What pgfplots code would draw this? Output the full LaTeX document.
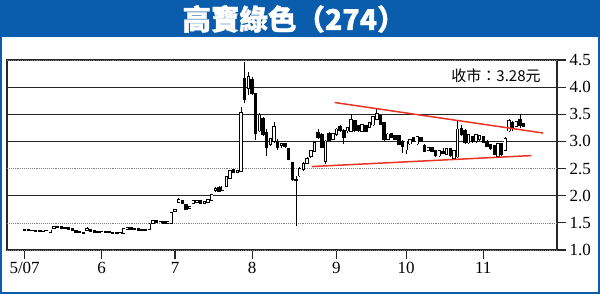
\documentclass[border=0pt]{standalone}
\usepackage{fontspec}
\setmainfont{Liberation Serif}
\newfontfamily\cjk{Noto Sans CJK TC}
\newfontfamily\cjkt{Noto Sans CJK TC}[BoldFeatures={FakeBold=1.2}]
\usepackage{pgfplots}
\usepackage{pgfplotstable}
\pgfplotsset{compat=1.18}
\definecolor{hkblue}{RGB}{10,92,172}
\definecolor{tred}{RGB}{232,52,36}

\pgfplotstableread{
x o h l c
0 1.37 1.38 1.36 1.37
1 1.37 1.38 1.36 1.36
2 1.36 1.37 1.35 1.36
3 1.36 1.37 1.34 1.35
4 1.35 1.36 1.34 1.35
5 1.35 1.36 1.34 1.36
6 1.36 1.37 1.35 1.36
7 1.33 1.37 1.32 1.36
8 1.40 1.44 1.39 1.43
9 1.43 1.44 1.41 1.42
10 1.42 1.43 1.40 1.41
11 1.41 1.42 1.39 1.40
12 1.40 1.41 1.38 1.39
13 1.38 1.39 1.35 1.36
14 1.35 1.36 1.32 1.33
15 1.33 1.34 1.31 1.32
16 1.32 1.33 1.30 1.31
17 1.36 1.43 1.35 1.38
18 1.37 1.38 1.34 1.35
19 1.35 1.36 1.32 1.33
20 1.33 1.34 1.31 1.32
21 1.32 1.34 1.31 1.33
22 1.33 1.34 1.32 1.33
23 1.33 1.34 1.31 1.32
24 1.32 1.33 1.30 1.31
25 1.31 1.32 1.30 1.31
26 1.31 1.32 1.30 1.32
27 1.31 1.41 1.30 1.39
28 1.39 1.41 1.38 1.40
29 1.40 1.41 1.38 1.39
30 1.39 1.40 1.37 1.38
31 1.38 1.39 1.36 1.37
32 1.37 1.38 1.35 1.37
33 1.37 1.38 1.35 1.36
34 1.38 1.49 1.37 1.47
35 1.50 1.56 1.49 1.53
36 1.53 1.55 1.50 1.51
37 1.51 1.53 1.49 1.52
38 1.52 1.53 1.50 1.50
39 1.50 1.52 1.49 1.51
40 1.50 1.70 1.49 1.68
41 1.72 1.76 1.70 1.74
42 1.88 1.96 1.86 1.92
43 1.90 1.92 1.84 1.86
44 1.84 1.85 1.74 1.76
45 1.77 1.81 1.75 1.79
46 1.86 1.92 1.85 1.90
47 1.88 1.93 1.86 1.91
48 1.90 1.91 1.85 1.87
49 1.87 1.89 1.85 1.88
50 1.89 1.94 1.88 1.93
51 1.92 2.03 1.90 2.02
52 2.10 2.16 2.07 2.13
53 2.15 2.18 2.07 2.09
54 2.11 2.18 2.10 2.17
55 2.17 2.35 2.16 2.34
56 2.33 2.47 2.32 2.46
57 2.47 2.49 2.41 2.43
58 2.43 2.48 2.41 2.46
59 2.45 3.64 2.44 3.52
60 4.16 4.47 3.70 3.78
61 3.98 4.28 3.85 4.19
62 4.13 4.18 3.85 3.89
63 3.88 3.90 3.03 3.16
64 3.20 3.52 3.18 3.48
65 3.41 3.45 3.10 3.13
66 3.15 3.22 2.73 2.90
67 2.95 3.07 2.92 3.05
68 3.00 3.35 2.98 3.26
69 3.00 3.05 2.85 2.90
70 2.93 2.98 2.88 2.96
71 2.96 2.97 2.88 2.91
72 2.86 2.88 2.65 2.68
73 2.60 2.62 2.28 2.31
74 2.30 2.36 1.45 2.29
75 2.37 2.52 2.34 2.50
76 2.49 2.62 2.46 2.58
77 2.60 2.72 2.58 2.68
78 2.73 2.85 2.70 2.83
79 2.83 3.00 2.81 2.98
80 3.16 3.22 3.05 3.07
81 3.13 3.16 2.87 2.90
82 2.64 3.02 2.58 3.00
83 3.14 3.18 3.00 3.02
84 3.04 3.16 3.02 3.14
85 3.13 3.24 3.10 3.22
86 3.26 3.30 3.18 3.20
87 3.19 3.22 2.95 3.08
88 3.20 3.27 3.15 3.25
89 3.19 3.50 3.17 3.39
90 3.38 3.40 3.18 3.21
91 3.28 3.30 3.18 3.20
92 3.19 3.31 3.17 3.30
93 3.29 3.31 3.17 3.19
94 3.26 3.36 3.24 3.34
95 3.31 3.46 3.29 3.45
96 3.41 3.59 3.39 3.50
97 3.47 3.49 3.30 3.32
98 3.35 3.36 3.00 3.04
99 3.04 3.15 3.02 3.13
100 3.14 3.16 3.06 3.08
101 3.10 3.12 3.02 3.04
102 3.10 3.12 2.93 2.95
103 3.00 3.02 2.78 2.92
104 2.85 3.01 2.76 3.00
105 2.96 3.04 2.94 3.02
106 3.07 3.09 2.99 3.01
107 2.96 3.09 2.94 3.08
108 3.06 3.08 2.99 3.01
109 2.92 2.95 2.80 2.83
110 2.84 2.90 2.82 2.88
111 2.88 2.90 2.80 2.83
112 2.83 2.85 2.71 2.74
113 2.74 2.83 2.71 2.82
114 2.80 2.87 2.76 2.78
115 2.77 2.88 2.75 2.86
116 2.86 2.87 2.72 2.74
117 2.70 2.84 2.68 2.83
118 2.72 3.38 2.70 3.22
119 3.24 3.30 3.10 3.13
120 3.20 3.22 2.96 2.98
121 2.98 3.14 2.96 3.12
122 3.08 3.10 2.97 3.00
123 3.00 3.14 2.98 3.12
124 3.04 3.12 3.01 3.10
125 3.08 3.10 2.97 2.99
126 3.00 3.02 2.90 2.92
127 2.94 2.96 2.85 2.87
128 2.92 2.94 2.75 2.77
129 2.73 2.96 2.70 2.95
130 2.95 2.97 2.74 2.77
131 2.84 3.08 2.82 3.04
132 3.20 3.42 3.18 3.38
133 3.35 3.37 3.20 3.26
134 3.29 3.38 3.26 3.36
135 3.40 3.50 3.24 3.30
136 3.32 3.34 3.26 3.28
}\candles

\begin{document}
\begin{tikzpicture}
\useasboundingbox (0,0) rectangle (600pt,294pt);
\fill[hkblue] (0,0) rectangle (600pt,294pt);
\fill[white] (2pt,2pt) rectangle (598pt,257pt);
\node[text=white, font=\cjkt\bfseries\fontsize{28.5}{30}\selectfont] at (294pt,275pt) {高寶綠色（274）};
\begin{axis}[
  at={(7pt,44pt)}, anchor=south west,
  scale only axis, width=550pt, height=190pt,
  xmin=-4.8, xmax=145.1, ymin=1, ymax=4.5,
  axis line style={black!85, line width=1.2pt},
  xtick={0,21,41,62,85,104,125},
  xticklabels={5/07,6,7,8,9,10,11},
  xtick pos=bottom,
  ytick={2,3,3.5,4},
  extra y ticks={1,1.5,2.5,4.5},
  extra y tick style={grid=major, major grid style={densely dotted, black!50, line width=0.7pt}},
  ymajorgrids,
  grid style={black!85, line width=0.9pt},
  ytick pos=right, yticklabel pos=right,
  tick align=outside,
  major tick length=9pt,
  tick style={black!85, line width=1.1pt},
  ticklabel style={font=\fontsize{17}{17}\selectfont},
  yticklabel={\pgfmathprintnumber[assume math mode=true,fixed,fixed zerofill,precision=1]{\tick}},
  /pgf/number format/assume math mode=true,
  clip=true,
]
% wicks
\addplot[draw=none, mark=none, forget plot,
  error bars/.cd, y dir=plus, y explicit, error mark=none,
  error bar style={draw=black, line width=0.75pt}]
  table[x=x, y=l, y error plus expr={\thisrow{h}-\thisrow{l}}] {\candles};
% bodies
\addplot[draw=none, mark=none, forget plot,
  error bars/.cd, y dir=plus, y explicit, error mark=none,
  error bar style={draw=black, line width=3.4pt}]
  table[x=x, y expr={min(\thisrow{o},\thisrow{c})-0.016}, y error plus expr={abs(\thisrow{c}-\thisrow{o})+0.032}] {\candles};
% hollow interiors (rising days)
\addplot[draw=none, mark=none, forget plot,
  error bars/.cd, y dir=plus, y explicit, error mark=none,
  error bar style={draw=white, line width=1.8pt}]
  table[x=x, y=o, y error plus expr={max(\thisrow{c}-\thisrow{o},0)}] {\candles};
% trend lines
\addplot[tred, line width=1.5pt] coordinates {(84.5,3.717) (141.3,3.155)};
\addplot[tred, line width=1.5pt] coordinates {(78.3,2.537) (138.1,2.739)};
\end{axis}
\node[font=\cjk\fontsize{15}{15}\selectfont, anchor=center] at (496pt,218pt) {收市：3.28元};
\end{tikzpicture}
\end{document}
